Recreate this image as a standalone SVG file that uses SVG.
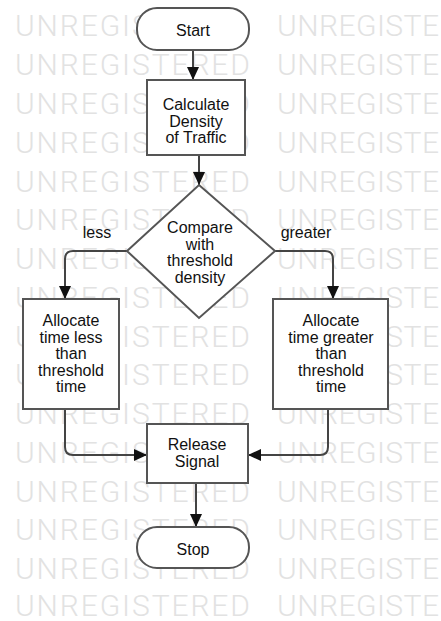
<svg xmlns="http://www.w3.org/2000/svg" width="441" height="621" viewBox="0 0 441 621">
<style>
.wm{font-family:Roboto,"Liberation Sans",Arial,sans-serif;font-weight:300;font-size:30px;fill:#e2e2e2}
.shape{fill:#fff;stroke:#555;stroke-width:2}
.t{font-family:"Liberation Sans",Arial,sans-serif;font-size:16px;fill:#111;text-anchor:middle}
.c{fill:none;stroke:#444;stroke-width:2}
</style>
<defs>
<marker id="ah" markerUnits="userSpaceOnUse" markerWidth="13" markerHeight="12" refX="13" refY="6" orient="auto">
<path d="M0,0 L13,6 L0,12 z" fill="#111"/>
</marker>
</defs>
<rect width="441" height="621" fill="#fff"/>
<g id="watermark">
<text class="wm" x="15" y="36" textLength="235">UNREGISTERED</text><text class="wm" x="277" y="36" textLength="162">UNREGISTE</text>
<text class="wm" x="15" y="75" textLength="235">UNREGISTERED</text><text class="wm" x="277" y="75" textLength="162">UNREGISTE</text>
<text class="wm" x="15" y="114" textLength="235">UNREGISTERED</text><text class="wm" x="277" y="114" textLength="162">UNREGISTE</text>
<text class="wm" x="15" y="153" textLength="235">UNREGISTERED</text><text class="wm" x="277" y="153" textLength="162">UNREGISTE</text>
<text class="wm" x="15" y="192" textLength="235">UNREGISTERED</text><text class="wm" x="277" y="192" textLength="162">UNREGISTE</text>
<text class="wm" x="15" y="230" textLength="235">UNREGISTERED</text><text class="wm" x="277" y="230" textLength="162">UNREGISTE</text>
<text class="wm" x="15" y="269" textLength="235">UNREGISTERED</text><text class="wm" x="277" y="269" textLength="162">UNREGISTE</text>
<text class="wm" x="15" y="308" textLength="235">UNREGISTERED</text><text class="wm" x="277" y="308" textLength="162">UNREGISTE</text>
<text class="wm" x="15" y="347" textLength="235">UNREGISTERED</text><text class="wm" x="277" y="347" textLength="162">UNREGISTE</text>
<text class="wm" x="15" y="385" textLength="235">UNREGISTERED</text><text class="wm" x="277" y="385" textLength="162">UNREGISTE</text>
<text class="wm" x="15" y="424" textLength="235">UNREGISTERED</text><text class="wm" x="277" y="424" textLength="162">UNREGISTE</text>
<text class="wm" x="15" y="463" textLength="235">UNREGISTERED</text><text class="wm" x="277" y="463" textLength="162">UNREGISTE</text>
<text class="wm" x="15" y="502" textLength="235">UNREGISTERED</text><text class="wm" x="277" y="502" textLength="162">UNREGISTE</text>
<text class="wm" x="15" y="540" textLength="235">UNREGISTERED</text><text class="wm" x="277" y="540" textLength="162">UNREGISTE</text>
<text class="wm" x="15" y="579" textLength="235">UNREGISTERED</text><text class="wm" x="277" y="579" textLength="162">UNREGISTE</text>
<text class="wm" x="15" y="616" textLength="235">UNREGISTERED</text><text class="wm" x="277" y="616" textLength="162">UNREGISTE</text>
</g>
<g id="connectors">
<path class="c" d="M193,50 V80" marker-end="url(#ah)"/>
<path class="c" d="M199,155 V185" marker-end="url(#ah)"/>
<path class="c" d="M127,251 H73 Q65,251 65,259 V299" marker-end="url(#ah)"/>
<path class="c" d="M275,251 H325 Q333,251 333,259 V299" marker-end="url(#ah)"/>
<path class="c" d="M65,409 V447 Q65,455 73,455 H147" marker-end="url(#ah)"/>
<path class="c" d="M328,409 V447 Q328,455 320,455 H248" marker-end="url(#ah)"/>
<path class="c" d="M196,483 V527" marker-end="url(#ah)"/>
<text class="t" x="97" y="238">less</text>
<text class="t" x="306" y="238">greater</text>
</g>
<g id="start">
<rect class="shape" x="137" y="8" width="112" height="42" rx="20" ry="20"/>
<text class="t" x="193" y="35.5">Start</text>
</g>
<g id="calc">
<rect class="shape" x="147" y="80" width="98" height="75"/>
<text class="t" x="196" y="110">Calculate</text>
<text class="t" x="196" y="126.5">Density</text>
<text class="t" x="196" y="143">of Traffic</text>
</g>
<g id="compare">
<polygon class="shape" points="199,185 275,251 199,318 127,251"/>
<text class="t" x="200" y="233">Compare</text>
<text class="t" x="200" y="249.5">with</text>
<text class="t" x="200" y="266">threshold</text>
<text class="t" x="200" y="282.5">density</text>
</g>
<g id="less">
<rect class="shape" x="23" y="299" width="96" height="110"/>
<text class="t" x="71" y="326">Allocate</text>
<text class="t" x="71" y="342.5">time less</text>
<text class="t" x="71" y="359">than</text>
<text class="t" x="71" y="375.5">threshold</text>
<text class="t" x="71" y="392">time</text>
</g>
<g id="greater">
<rect class="shape" x="273" y="299" width="115" height="110"/>
<text class="t" x="331" y="326">Allocate</text>
<text class="t" x="331" y="342.5">time greater</text>
<text class="t" x="331" y="359">than</text>
<text class="t" x="331" y="375.5">threshold</text>
<text class="t" x="331" y="392">time</text>
</g>
<g id="release">
<rect class="shape" x="147" y="424" width="101" height="59"/>
<text class="t" x="197" y="450">Release</text>
<text class="t" x="197" y="466.5">Signal</text>
</g>
<g id="stop">
<rect class="shape" x="137" y="527" width="112" height="41" rx="20" ry="20"/>
<text class="t" x="193" y="554.5">Stop</text>
</g>
</svg>
